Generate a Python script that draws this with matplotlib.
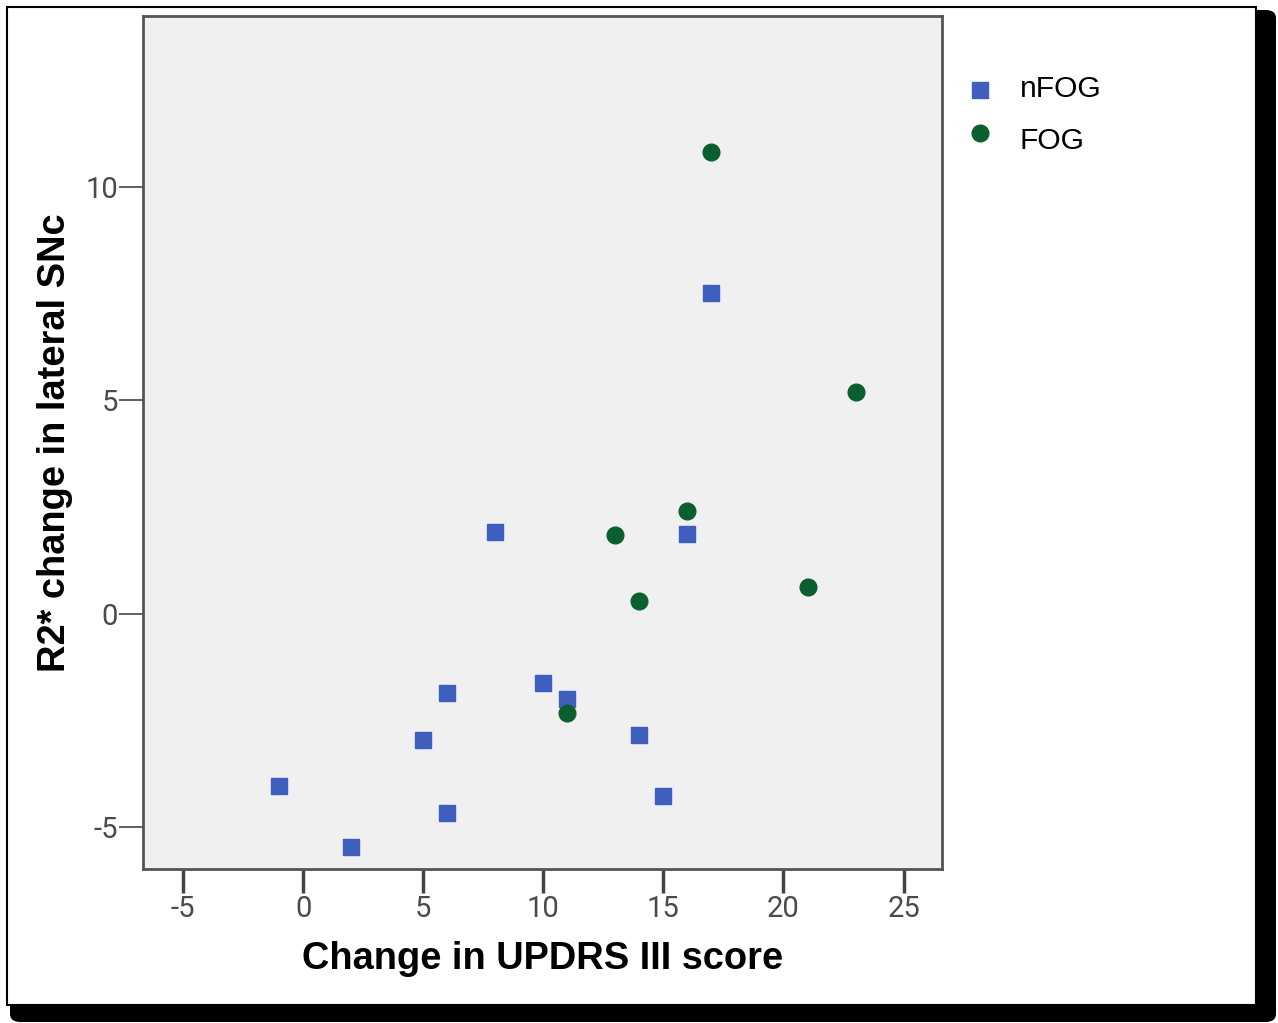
import matplotlib
matplotlib.use("Agg")
import matplotlib.pyplot as plt
from matplotlib.patches import Rectangle, FancyBboxPatch
from matplotlib.lines import Line2D

# Data
nfog_x = [-1, 2, 5, 6, 6, 8, 10, 11, 14, 15, 16, 17]
nfog_y = [-4.03, -5.46, -2.97, -1.85, -4.68, 1.92, -1.62, -1.99, -2.83, -4.26, 1.87, 7.52]
fog_x = [17, 23, 16, 13, 14, 21, 11]
fog_y = [10.82, 5.20, 2.41, 1.85, 0.30, 0.63, -2.32]
xticks = [-5, 0, 5, 10, 15, 20, 25]
yticks = [-5, 0, 5, 10]
labels = ["nFOG", "FOG"]

W, H = 1278, 1023
fig = plt.figure(figsize=(W / 100, H / 100), dpi=100)
fig.patch.set_facecolor("white")

# shadow and frame
shadow = FancyBboxPatch((10 / W, 1 - 1022 / H), 1266 / W, (1022 - 10) / H,
                        boxstyle="round,pad=0,rounding_size=0.008",
                        transform=fig.transFigure, facecolor="black",
                        edgecolor="none", zorder=0)
fig.patches.append(shadow)
frame = Rectangle((7 / W, 1 - 1005 / H), (1256 - 7) / W, (1005 - 7) / H,
                  transform=fig.transFigure, facecolor="white",
                  edgecolor="black", linewidth=1.5, zorder=1)
fig.patches.append(frame)

ax = fig.add_axes([143 / W, 1 - 869 / H, (942 - 143) / W, (869 - 16) / H])
ax.set_zorder(2)
ax.set_facecolor("#f0f0f0")

sq_color = "#3f5fbe"
ci_color = "#0b5e2e"
ax.plot(nfog_x, nfog_y, linestyle="none", marker="s", markersize=11.5,
        color=sq_color, markeredgecolor=sq_color)
ax.plot(fog_x, fog_y, linestyle="none", marker="o", markersize=12,
        color=ci_color, markeredgecolor=ci_color)

ax.set_xlim(-6.67, 26.6)
ax.set_ylim(-5.98, 14.0)
ax.set_xticks(xticks)
ax.set_yticks(yticks)

tick_font = dict(family=["Roboto", "DejaVu Sans"], size=21, weight="normal")
ax.set_xticklabels([str(v) for v in xticks], fontdict=tick_font, color="#4a4a4a")
ax.set_yticklabels([str(v) for v in yticks], fontdict=tick_font, color="#4a4a4a")
ax.tick_params(axis="x", direction="out", length=17, width=2.5, color="#444444", pad=2)
ax.tick_params(axis="y", direction="out", length=17, width=1.2, color="#444444", pad=1)

for s in ax.spines.values():
    s.set_color("#555555")
    s.set_linewidth(2)

label_font = dict(family=["Liberation Sans", "DejaVu Sans"], size=27.4, weight="bold")
fig.text((302 + 784) / 2 / W, 1 - 959 / H, "Change in UPDRS III score",
         ha="center", va="center", **label_font)
fig.text(55 / W, 1 - 443 / H, "R2* change in lateral SNc", rotation=90,
         ha="center", va="center", **label_font)

# legend
leg_font = dict(family=["Liberation Sans", "DejaVu Sans"], size=21.6)
fig.add_artist(Line2D([980 / W], [1 - 90 / H], transform=fig.transFigure,
                      marker="s", markersize=11.5, color=sq_color, linestyle="none"))
fig.add_artist(Line2D([980 / W], [1 - 133 / H], transform=fig.transFigure,
                      marker="o", markersize=12, color=ci_color, linestyle="none"))
fig.text(1020 / W, 1 - 89 / H, labels[0], ha="left", va="center", **leg_font)
fig.text(1020 / W, 1 - 141 / H, labels[1], ha="left", va="center", **leg_font)

fig.savefig("out.png", dpi=100)
